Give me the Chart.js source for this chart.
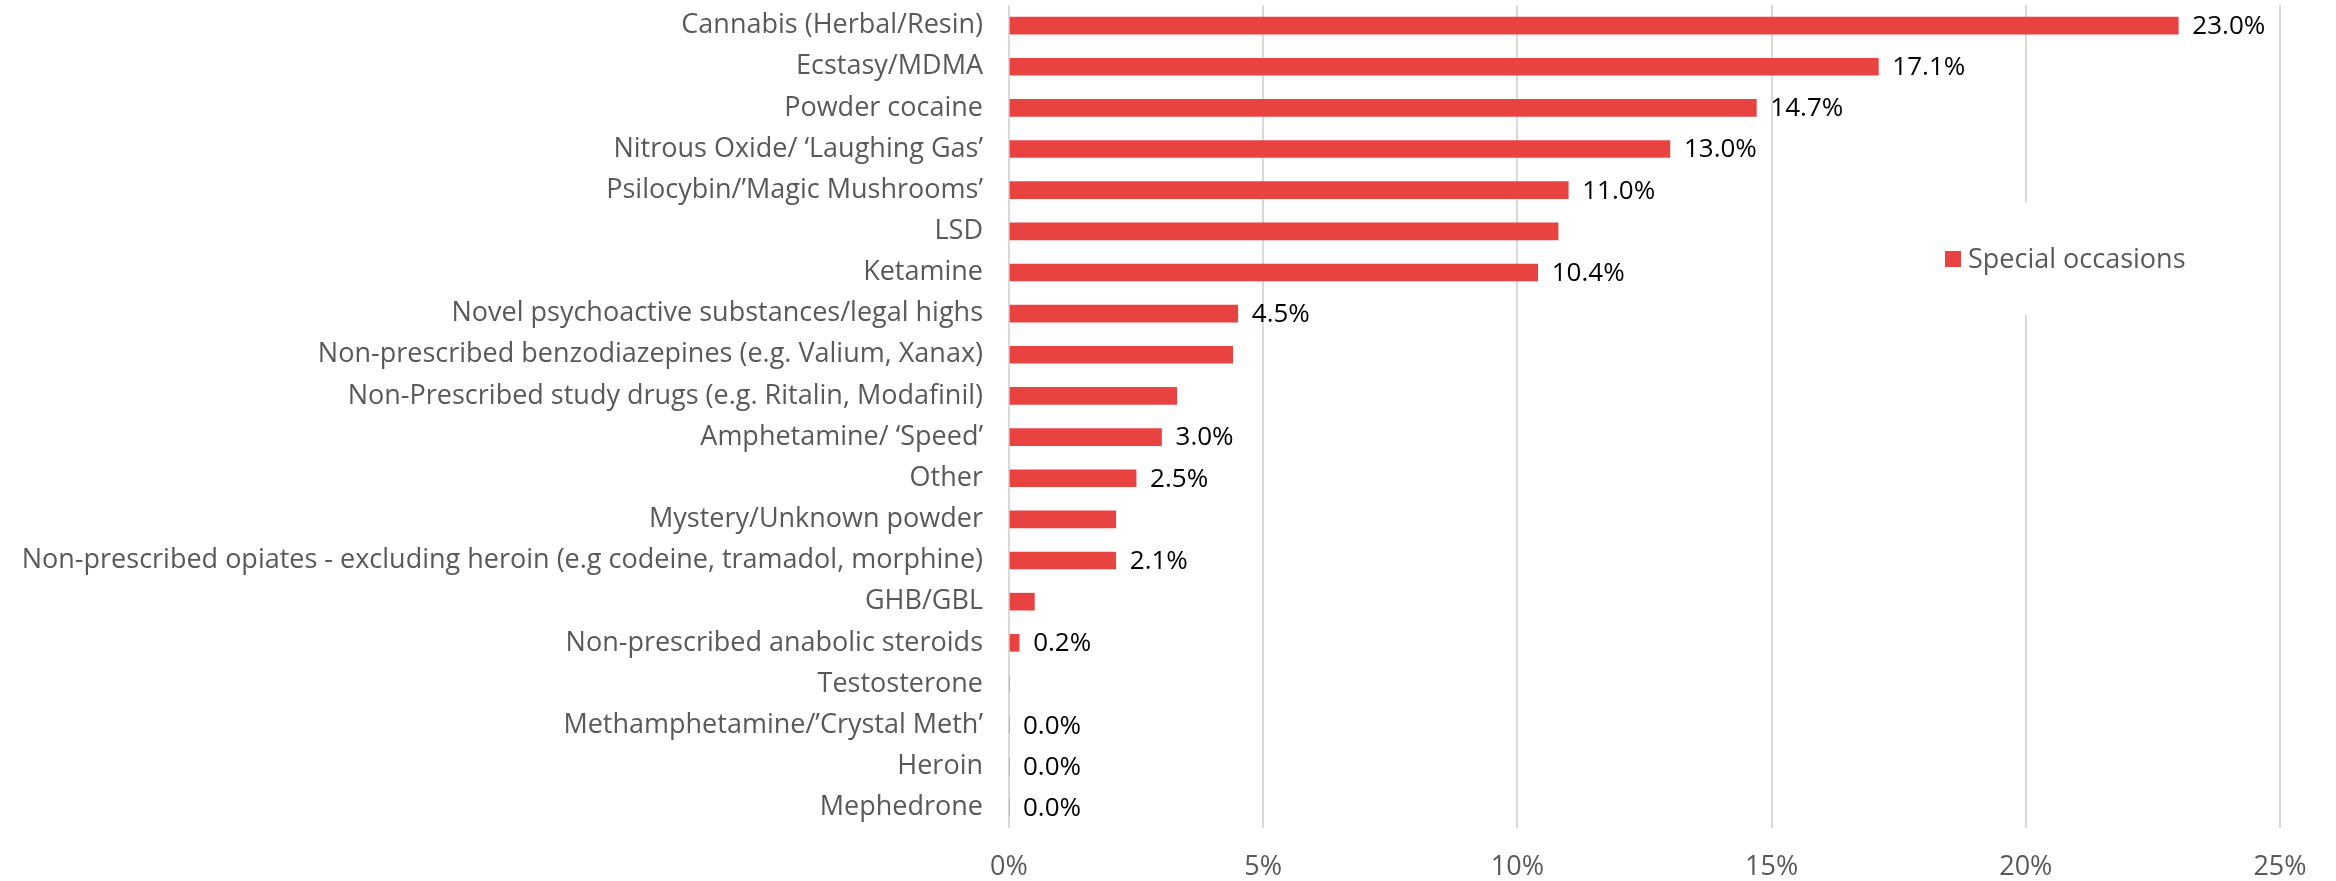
<!DOCTYPE html>
<html>
<head>
<meta charset="utf-8">
<script src="https://cdn.jsdelivr.net/npm/chart.js@4/dist/chart.umd.min.js"></script>
<style>
  html, body { margin: 0; padding: 0; background: #fff; }
  #chartContainer { width: 2336px; height: 881px; position: relative; }
</style>
</head>
<body>
<div id="chartContainer"><canvas id="drugChart"></canvas></div>
<script>
// data
const categories = [
	'Cannabis (Herbal/Resin)',
	'Ecstasy/MDMA',
	'Powder cocaine',
	'Nitrous Oxide/ \u2018Laughing Gas\u2019',
	'Psilocybin/\u2019Magic Mushrooms\u2019',
	'LSD',
	'Ketamine',
	'Novel psychoactive substances/legal highs',
	'Non-prescribed benzodiazepines (e.g. Valium, Xanax)',
	'Non-Prescribed study drugs (e.g. Ritalin, Modafinil)',
	'Amphetamine/ \u2018Speed\u2019',
	'Other',
	'Mystery/Unknown powder',
	'Non-prescribed opiates - excluding heroin (e.g codeine, tramadol, morphine)',
	'GHB/GBL',
	'Non-prescribed anabolic steroids',
	'Testosterone',
	'Methamphetamine/\u2019Crystal Meth\u2019',
	'Heroin',
	'Mephedrone'
];
const specialOccasions = [23.0, 17.1, 14.7, 13.0, 11.0, 10.8, 10.4, 4.5, 4.4, 3.3, 3.0, 2.5, 2.1, 2.1, 0.5, 0.2, 0, 0, 0, 0];
// which bars carry a value label in the original
const showLabel = [true, true, true, true, true, false, true, true, false, false, true, true, false, true, false, true, false, true, true, true];
const xTickValues = [0, 5, 10, 15, 20, 25];
const seriesName = 'Special occasions';

const BAR_RED = '#e84341';
const TEXT_GREY = '#595959';
const FONT = '"Open Sans", "Noto Sans", sans-serif';

Chart.defaults.font.family = FONT;
Chart.defaults.color = TEXT_GREY;

const valueLabels = {
	id: 'valueLabels',
	afterDatasetsDraw(chart) {
		const ctx = chart.ctx;
		const meta = chart.getDatasetMeta(0);
		ctx.save();
		ctx.font = '26px ' + FONT;
		ctx.fillStyle = '#000';
		ctx.textBaseline = 'middle';
		ctx.textAlign = 'left';
		meta.data.forEach((bar, i) => {
			if (!showLabel[i]) return;
			ctx.fillText(specialOccasions[i].toFixed(1) + '%', bar.x + 14, bar.y + 1);
		});
		ctx.restore();
	}
};

const insideLegend = {
	id: 'insideLegend',
	afterDraw(chart) {
		const ctx = chart.ctx;
		const ds = chart.data.datasets[0];
		ctx.save();
		ctx.fillStyle = '#fff';
		ctx.fillRect(1936, 202, 264, 113);
		ctx.fillStyle = ds.backgroundColor;
		ctx.fillRect(1945, 251, 16, 16);
		ctx.font = '27px ' + FONT;
		ctx.fillStyle = TEXT_GREY;
		ctx.textBaseline = 'middle';
		ctx.fillText(ds.label, 1968, 260);
		ctx.restore();
	}
};

const ctx = document.getElementById('drugChart').getContext('2d');
new Chart(ctx, {
	type: 'bar',
	data: {
		labels: categories,
		datasets: [{
			label: seriesName,
			data: specialOccasions,
			backgroundColor: BAR_RED,
			borderWidth: 0,
			barThickness: 17
		}]
	},
	options: {
		indexAxis: 'y',
		responsive: true,
		maintainAspectRatio: false,
		animation: false,
		layout: { padding: { top: 5, right: 56, left: 0, bottom: 0 } },
		scales: {
			x: {
				min: 0,
				max: 25,
				afterBuildTicks: (scale) => { scale.ticks = xTickValues.map(v => ({ value: v })); },
				afterFit: (scale) => { scale.height = 53; },
				grid: { color: '#d9d9d9', lineWidth: 2, drawTicks: false },
				border: { display: false },
				ticks: {
					padding: 23,
					color: TEXT_GREY,
					font: { size: 27 },
					callback: (v) => v + '%'
				}
			},
			y: {
				afterFit: (scale) => {
					scale.width = 1009;
					scale.paddingTop = 0;
					scale.paddingBottom = 0;
				},
				grid: { display: false, drawTicks: false },
				border: { display: false },
				ticks: {
					padding: 26,
					color: TEXT_GREY,
					font: { size: 27 },
					autoSkip: false
				}
			}
		},
		plugins: {
			legend: { display: false },
			tooltip: { enabled: false }
		}
	},
	plugins: [valueLabels, insideLegend]
});
</script>
</body>
</html>
